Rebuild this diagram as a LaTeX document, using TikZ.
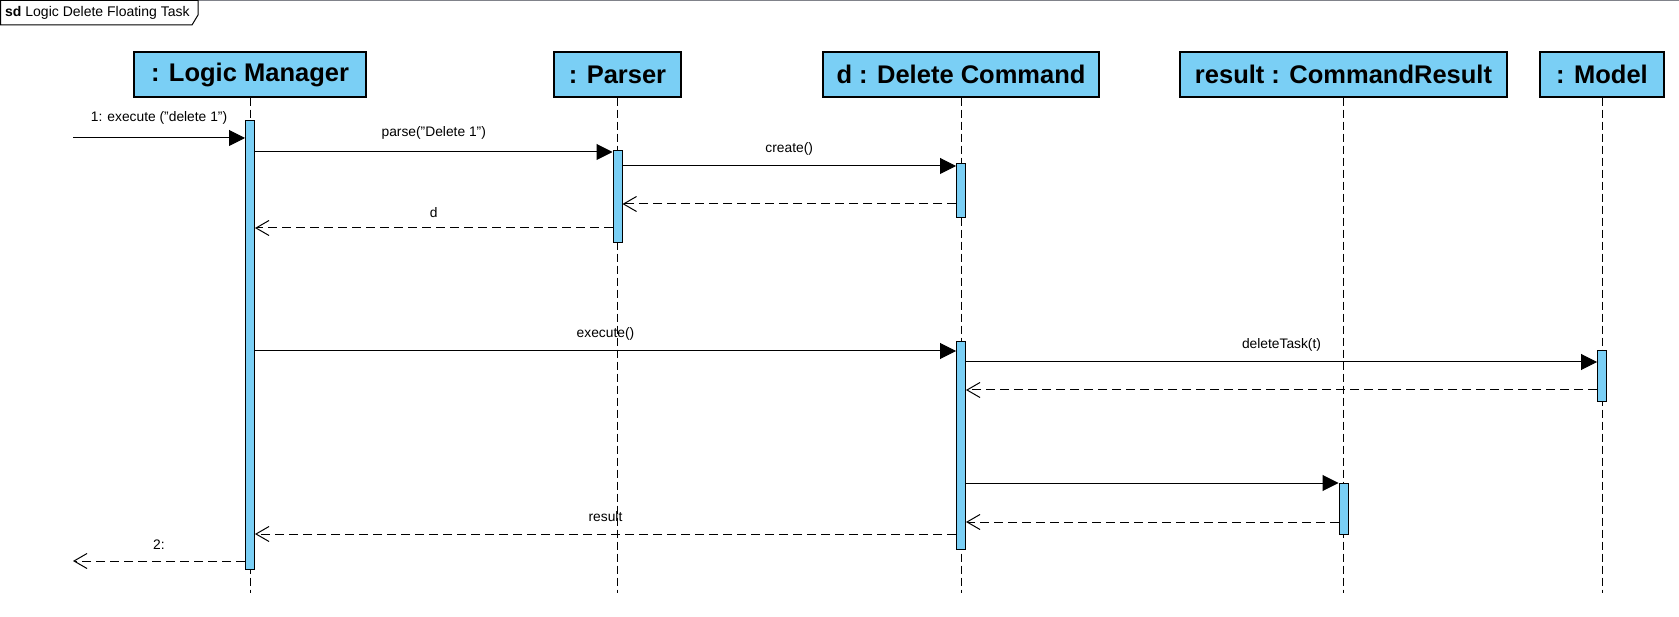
\documentclass[tikz,border=0pt]{standalone}
\usepackage{fontspec}
\setmainfont{Liberation Sans}
\usetikzlibrary{arrows.meta}
\definecolor{umlblue}{RGB}{122,207,245}
\definecolor{framegray}{RGB}{128,130,138}

\begin{document}
\begin{tikzpicture}[x=1pt,y=-1pt,
  lifehead/.style={draw=black,line width=1.2pt,fill=umlblue,minimum height=45pt,inner sep=0pt,font=\fontsize{25.5}{29}\selectfont\bfseries},
  lifeline/.style={line width=1pt,dash pattern=on 8pt off 4pt},
  actbar/.style={draw=black,line width=1pt,fill=umlblue,minimum width=9pt,inner sep=0pt},
  call/.style={line width=1pt,-{Triangle[length=16pt,width=16pt]}},
  reply/.style={line width=1pt,dash pattern=on 9pt off 5pt,-{Straight Barb[length=13pt,width=15pt]}},
  msglabel/.style={midway,yshift=17pt,font=\fontsize{13.8}{16}\selectfont}]

\useasboundingbox (0,0) rectangle (1679,617);

\draw [framegray,line width=1.5pt] (0,0.75) -- (1679,0.75);
\draw [black,fill=white,line width=1pt] (0.5,0.5) -- (198,0.5) -- (198,15) -- (192,25) -- (0.5,25) -- cycle;
\node [anchor=west,inner sep=0pt,font=\fontsize{14}{16}\selectfont] (sdTitle) at (5,13) {\textbf{sd} Logic Delete Floating Task};

\node [lifehead,minimum width=232pt] (lm) at (250,74.5) {: Logic Manager};
\node [lifehead,minimum width=127pt] (ps) at (617.5,74.5) {: Parser};
\node [lifehead,minimum width=276pt] (dc) at (961,74.5) {d : Delete Command};
\node [lifehead,minimum width=327pt] (cr) at (1343.5,74.5) {result : CommandResult};
\node [lifehead,minimum width=124pt] (md) at (1602,74.5) {: Model};

\draw [lifeline] (lm.south) -- (lm.south |- 0,593);
\draw [lifeline] (ps.south) -- (ps.south |- 0,593);
\draw [lifeline] (dc.south) -- (dc.south |- 0,593);
\draw [lifeline] (cr.south) -- (cr.south |- 0,593);
\draw [lifeline] (md.south) -- (md.south |- 0,593);

\node [actbar,minimum height=448pt] (lmA) at (250,345) {};
\node [actbar,minimum height=92pt] (psA) at (617.5,197) {};
\node [actbar,minimum height=54pt] (dcA) at (961,191) {};
\node [actbar,minimum height=207pt] (dcB) at (961,445.5) {};
\node [actbar,minimum height=51pt] (mdA) at (1602,376.5) {};
\node [actbar,minimum height=51pt] (crA) at (1343.5,508.5) {};

\coordinate (found) at (73,138);
\coordinate (lost) at (73,561);

\draw [call] (found) -- (lmA.west |- found) node [msglabel,yshift=3pt] {1: execute ("delete 1")};
\draw [call] (lmA.east |- 0,152) -- (psA.west |- 0,152) node [msglabel,yshift=2pt] {parse("Delete 1")};
\draw [call] (psA.east |- 0,166) -- (dcA.west |- 0,166) node [msglabel] {create()};
\draw [reply] (dcA.west |- 0,204) -- (psA.east |- 0,204);
\draw [reply] (psA.west |- 0,228) -- (lmA.east |- 0,228) node [msglabel,yshift=-2pt] {d};
\draw [call] (lmA.east |- 0,351) -- (dcB.west |- 0,351) node [msglabel] {execute()};
\draw [call] (dcB.east |- 0,362) -- (mdA.west |- 0,362) node [msglabel] {deleteTask(t)};
\draw [reply] (mdA.west |- 0,390) -- (dcB.east |- 0,390);
\draw [call] (dcB.east |- 0,483) -- (crA.west |- 0,483);
\draw [reply] (crA.west |- 0,522) -- (dcB.east |- 0,522);
\draw [reply] (dcB.west |- 0,534) -- (lmA.east |- 0,534) node [msglabel] {result};
\draw [reply] (lmA.west |- lost) -- (lost) node [msglabel,yshift=-1pt] {2:};

\end{tikzpicture}
\end{document}
